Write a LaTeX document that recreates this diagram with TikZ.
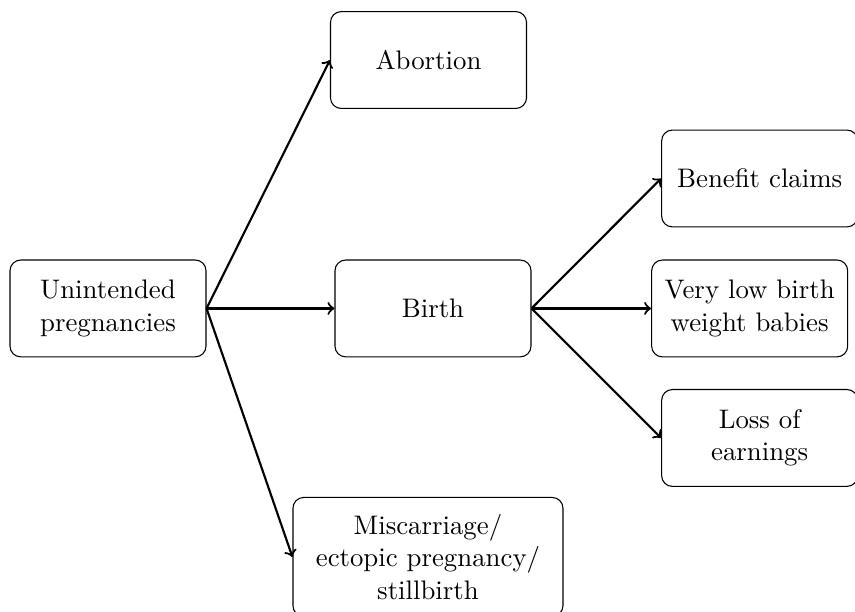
\documentclass[tikz,border=0pt]{standalone}
\begin{document}
\begin{tikzpicture}[box/.style={draw, rounded corners, align=center, minimum width=2.57cm, minimum height=1.27cm}]
    \useasboundingbox (0,0) rectangle (11.21,-8.02);
    \node[box] (up) at (1.416,-4.044) {Unintended\\pregnancies};
    \node[box] (ab) at (5.618,-0.787) {Abortion};
    \node[box] (bi) at (5.677,-4.044) {Birth};
    \node[box, minimum width=3.54cm, minimum height=1.56cm] (mi) at (5.611,-7.302) {Miscarriage/\\ectopic pregnancy/\\stillbirth};
    \node[box] (bc) at (9.960,-2.340) {Benefit claims};
    \node[box] (lb) at (9.829,-4.044) {Very low birth\\weight babies};
    \node[box] (le) at (9.960,-5.742) {Loss of\\earnings};
    \draw[->, thick] (up.east) -- (ab.west);
    \draw[->, thick] (up.east) -- (bi.west);
    \draw[->, thick] (up.east) -- (mi.west);
    \draw[->, thick] (bi.east) -- (bc.west);
    \draw[->, thick] (bi.east) -- (lb.west);
    \draw[->, thick] (bi.east) -- (le.west);
\end{tikzpicture}
\end{document}
